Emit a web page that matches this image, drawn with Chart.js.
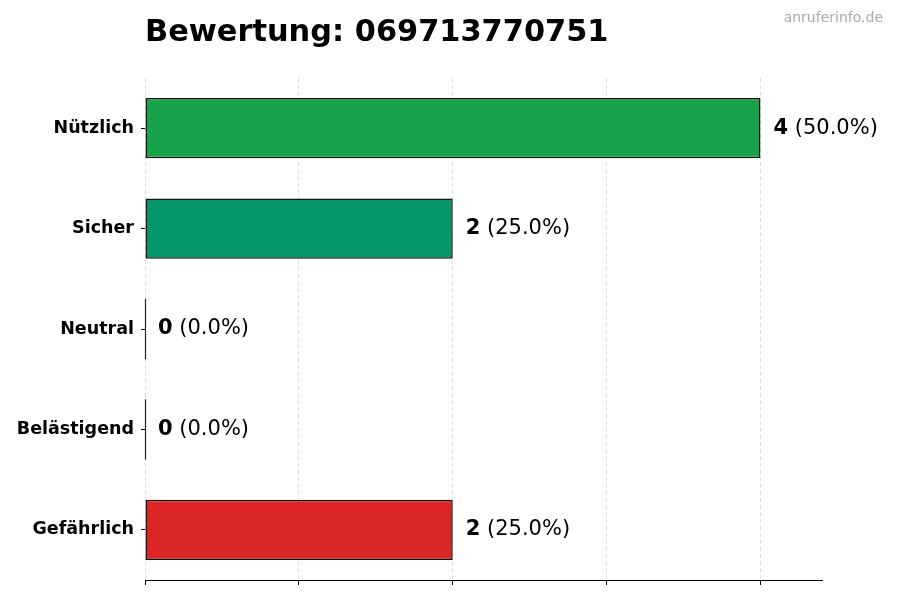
<!DOCTYPE html>
<html>
<head>
<meta charset="utf-8">
<script src="https://cdn.jsdelivr.net/npm/chart.js@4"></script>
<style>
  html, body { margin: 0; padding: 0; background: #fff; }
  #wrap { width: 900px; height: 600px; }
</style>
</head>
<body>
<div id="wrap"><canvas id="ratingChart" width="900" height="600"></canvas></div>
<script>
    const categories = ['Nützlich', 'Sicher', 'Neutral', 'Belästigend', 'Gefährlich'];
    const counts = [4, 2, 0, 0, 2];
    const barColors = ['#16a34a', '#059669', '#6b7280', '#f59e0b', '#dc2626'];
    const xTicks = [0, 1, 2, 3, 4];
    const chartTitle = 'Bewertung: 069713770751';
    const watermark = 'anruferinfo.de';

    const total = counts.reduce((a, b) => a + b, 0);
    const FONT = '"DejaVu Sans", sans-serif';

    // Title + watermark
    const titlePlugin = {
      id: 'titleText',
      afterDraw(chart) {
        const ctx = chart.ctx;
        ctx.save();
        ctx.textBaseline = 'alphabetic';
        ctx.fillStyle = '#000';
        ctx.font = 'bold 30.4px ' + FONT;
        ctx.textAlign = 'left';
        ctx.fillText(chartTitle, chart.chartArea.left, 41);
        ctx.fillStyle = '#aaaaaa';
        ctx.font = '14px ' + FONT;
        ctx.textAlign = 'right';
        ctx.fillText(watermark, 883, 22);
        ctx.restore();
      }
    };

    // Value labels next to each bar, plus an edge line for empty bars
    const valueLabels = {
      id: 'valueLabels',
      afterDatasetsDraw(chart) {
        const ctx = chart.ctx;
        const meta = chart.getDatasetMeta(0);
        ctx.save();
        meta.data.forEach((bar, i) => {
          if (Math.abs(bar.x - bar.base) < 1) {
            ctx.strokeStyle = '#222';
            ctx.lineWidth = 1.2;
            ctx.beginPath();
            ctx.moveTo(bar.base + 0.5, bar.y - bar.height / 2);
            ctx.lineTo(bar.base + 0.5, bar.y + bar.height / 2);
            ctx.stroke();
          }
        });
        ctx.textBaseline = 'middle';
        ctx.textAlign = 'left';
        ctx.fillStyle = '#000';
        meta.data.forEach((bar, i) => {
          const v = counts[i];
          const pct = total ? (v / total * 100).toFixed(1) : '0.0';
          let x = bar.x + 13;
          ctx.font = 'bold 21px ' + FONT;
          const num = String(v);
          ctx.fillText(num, x, bar.y);
          x += ctx.measureText(num).width;
          ctx.font = '21px ' + FONT;
          ctx.fillText(' (' + pct + '%)', x, bar.y);
        });
        ctx.restore();
      }
    };

    const ctx = document.getElementById('ratingChart').getContext('2d');
    new Chart(ctx, {
      type: 'bar',
      data: {
        labels: categories,
        datasets: [{
          data: counts,
          backgroundColor: barColors,
          borderColor: '#111',
          borderWidth: 1.5,
          borderSkipped: false,
          barPercentage: 0.6,
          categoryPercentage: 1.0
        }]
      },
      options: {
        indexAxis: 'y',
        responsive: false,
        animation: false,
        layout: { padding: { top: 78, right: 78, left: 0, bottom: 0 } },
        plugins: {
          legend: { display: false },
          tooltip: { enabled: false }
        },
        scales: {
          x: {
            min: 0,
            max: 4.4,
            afterBuildTicks: s => { s.ticks = xTicks.map(v => ({ value: v })); },
            afterFit: s => { s.height = 20; },
            ticks: { display: false },
            grid: {
              color: '#dddddd',
              lineWidth: 1,
              drawTicks: true,
              tickLength: 5,
              tickColor: '#000',
              tickBorderDash: []
            },
            border: { display: true, color: '#000', width: 1, dash: [4, 3] }
          },
          y: {
            afterFit: s => { s.width = 145; },
            ticks: {
              color: '#000',
              padding: 7,
              font: { family: FONT, size: 17.5, weight: 'bold' }
            },
            grid: {
              offset: false,
              drawOnChartArea: false,
              drawTicks: true,
              tickLength: 4,
              tickColor: '#000'
            },
            border: { display: false }
          }
        }
      },
      plugins: [titlePlugin, valueLabels]
    });
</script>
</body>
</html>
